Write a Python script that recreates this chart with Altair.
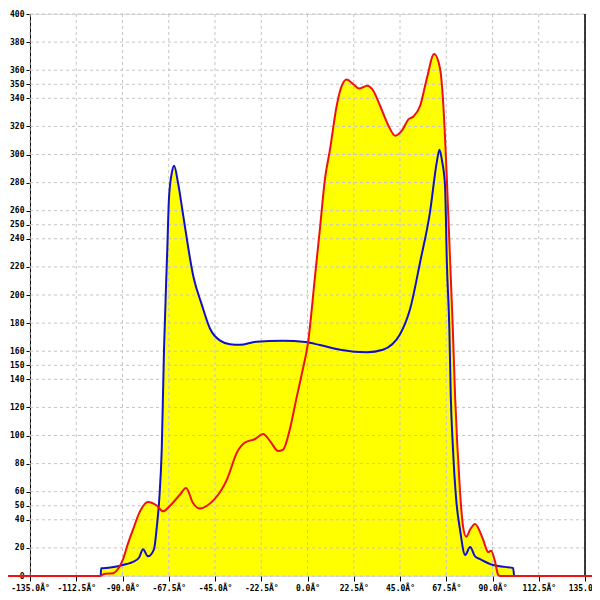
import altair as alt
import pandas as pd

# Blue series (angle in degrees, value)
blue_deg = [-100.6, -100.4, -96.0, -92.2, -88.0, -84.9, -82.0, -80.0, -77.6, -74.7, -73.3, -72.1,
            -70.9, -69.8, -68.2, -67.4, -66.0, -64.9, -63.0, -60.4, -55.5, -51.4, -47.4, -42.5,
            -37.7, -32.8, -25.0, -12.0, -1.0, 6.0, 15.9, 28.9, 36.7, 45.0, 49.9, 54.8, 59.6,
            62.9, 64.2, 65.5, 66.9, 67.8, 69.0, 69.7, 70.7, 72.3, 74.2, 76.7, 79.1, 81.5, 84.0,
            90.3, 96.1, 100.0, 100.5]
blue_val = [0, 5.5, 6, 7, 8.5, 10, 13, 19, 14, 19, 35, 55,
            90.5, 161.6, 233, 268.7, 287, 292, 280, 256, 213, 193, 176, 167.5,
            165, 164.6, 166.8, 167.5, 166.5, 164.4, 161, 159.2, 161, 172, 190, 223.5, 259,
            294.6, 303.4, 295, 278, 223, 176, 128, 92.7, 55, 33, 15, 20.6, 14, 12,
            7.8, 6.5, 5.7, 0]

# Red series
red_deg = [-150.0, -100.9, -99.0, -94.6, -92.7, -89.7, -87.8, -84.9, -81.5, -77.6, -73.2, -70.3,
           -66.9, -62.0, -59.1, -55.7, -52.3, -48.9, -45.0, -39.1, -34.3, -30.4, -25.5, -21.6,
           -18.2, -14.3, -11.9, -8.5, -5.6, -2.6, 0.3, 3.7, 6.1, 8.5, 11.0, 14.2, 16.7, 19.1,
           22.3, 25.1, 29.1, 32.0, 35.3, 39.4, 42.6, 45.9, 49.1, 51.5, 54.8, 58.0, 61.6, 64.5,
           66.1, 67.8, 69.4, 70.7, 71.8, 72.9, 74.2, 75.7, 77.2, 79.1, 81.5, 85.4, 87.9, 89.3,
           91.3, 92.7, 93.7, 150.0]
red_val = [0, 0, 1.5, 2, 4, 12, 21, 33, 46, 52.7, 50, 46,
           50, 58, 62.6, 52, 48, 50, 55, 69, 88, 95, 97.5, 101,
           96, 89, 90, 105, 125, 145, 166.5, 214, 248, 282.6, 304, 334.7, 349, 353.3,
           350, 347, 349, 345.4, 334.7, 320.5, 313.4, 317, 325, 327, 334.7, 353.7, 371.5, 361,
           334.7, 282.6, 223.5, 176, 128, 92.7, 60, 35, 28, 33, 37, 26, 17, 18,
           10, 1, 0, 0]

x_ticks = [-135, -112.5, -90, -67.5, -45, -22.5, 0, 22.5, 45, 67.5, 90, 112.5, 135]
y_ticks = [0, 20, 40, 50, 60, 80, 100, 120, 140, 150, 160, 180, 200, 220, 240, 250, 260,
           280, 300, 320, 340, 350, 360, 380, 400]

blue = pd.DataFrame({"deg": blue_deg, "val": blue_val})
red = pd.DataFrame({"deg": red_deg, "val": red_val})
xg = pd.DataFrame({"deg": x_ticks})
yg = pd.DataFrame({"val": y_ticks})
edge = pd.DataFrame({"deg": [x_ticks[-1]]})

FONT = "DejaVu Sans Mono"
xscale = alt.Scale(domain=[-135, 135], nice=False, zero=False)
yscale = alt.Scale(domain=[0, 400], nice=False)

xaxis = alt.Axis(values=x_ticks, grid=False, domain=False, tickColor="black", tickSize=5,
                 labelFont=FONT, labelFontSize=8, labelFontWeight="bold", labelColor="black",
                 labelPadding=3, title=None, labelAngle=0, labelOverlap=False, labelFlush=False,
                 labelExpr="replace(format(datum.value, '.1f'), '\u2212', '-') + '\u00c2\u00b0'")
yaxis = alt.Axis(values=y_ticks, grid=False, domain=True, domainColor="black", tickColor="black",
                 tickSize=4, labelFont=FONT, labelFontSize=8, labelFontWeight="bold",
                 labelColor="black", labelPadding=2, title=None, labelOverlap=False,
                 labelFlush=False, labelBound=False)

X = alt.X("deg:Q", scale=xscale, axis=xaxis)
Y = alt.Y("val:Q", scale=yscale, axis=yaxis)

area_b = alt.Chart(blue).mark_area(color="#ffff00", interpolate="monotone", opacity=1).encode(x=X, y=Y)
area_r = alt.Chart(red).mark_area(color="#ffff00", interpolate="monotone", opacity=1, clip=True).encode(x=X, y=Y)

grid_v = alt.Chart(xg).mark_rule(color="#c4c4c4", strokeDash=[3, 3], strokeWidth=1).encode(x=X)
grid_h = alt.Chart(yg).mark_rule(color="#c4c4c4", strokeDash=[3, 3], strokeWidth=1).encode(y=Y)
right_edge = alt.Chart(edge).mark_rule(color="black", strokeWidth=1.5).encode(x=X)

line_b = alt.Chart(blue).mark_line(color="#1010c8", strokeWidth=2, interpolate="monotone").encode(x=X, y=Y)
line_r = alt.Chart(red).mark_line(color="#ee1111", strokeWidth=2, interpolate="monotone", clip=False).encode(x=X, y=Y)

chart = alt.layer(area_b, area_r, grid_v, grid_h, right_edge, line_b, line_r).properties(
    width=555, height=562,
    autosize=alt.AutoSizeParams(type="none"),
    padding={"left": 22, "top": 6, "right": 7, "bottom": 15},
).configure_view(stroke=None).configure(background="white")

chart.save("out.html", embed_options={"renderer": "svg", "actions": False})
